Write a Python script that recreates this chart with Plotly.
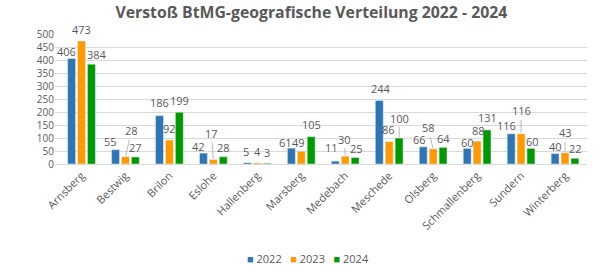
import plotly.graph_objects as go

categories = ["Arnsberg", "Bestwig", "Brilon", "Eslohe", "Hallenberg", "Marsberg",
              "Medebach", "Meschede", "Olsberg", "Schmallenberg", "Sundern", "Winterberg"]
v2022 = [406, 55, 186, 42, 5, 61, 11, 244, 66, 60, 116, 40]
v2023 = [473, 28, 92, 17, 4, 49, 30, 86, 58, 88, 116, 43]
v2024 = [384, 27, 199, 28, 3, 105, 25, 100, 64, 131, 60, 22]
y_ticks = [0, 50, 100, 150, 200, 250, 300, 350, 400, 450, 500]
years = ["2022", "2023", "2024"]
colors = ["#2E75B6", "#FF9900", "#009900"]

# label placement style (px): (dx, dy above bar top, leader line)
label_style = [
    [(-5, 7, 0), (-5, 8, 0), (0, 13, 0), (-5, 7, 0), (-1, 11, 0), (-6, 6, 0),
     (-4, 14, 0), (2, 12, 0), (-4, 7, 0), (0, 6, 0), (-5, 8, 0), (0, 7, 0)],
    [(0, 12, 0), (6, 26, 1), (0, 12, 0), (-2, 26, 1), (0, 11, 0), (-3, 9, 0),
     (-1, 17, 1), (-1, 12, 0), (-5, 21, 1), (1, 11, 0), (0, 23, 1), (0, 20, 1)],
    [(5, 10, 0), (0, 9, 0), (0, 12, 0), (0, 9, 0), (0, 11, 0), (0, 12, 0),
     (1, 9, 0), (0, 20, 1), (0, 9, 0), (0, 12, 0), (1, 7, 0), (0, 10, 0)],
]
bar_offsets = [-10, 0, 10]

gray = "#595959"
fnt = "Open Sans"

fig = go.Figure()
series = [v2022, v2023, v2024]
for name, vals, col in zip(years, series, colors):
    fig.add_trace(go.Bar(x=categories, y=vals, name=name, marker_color=col,
                         showlegend=False))

annotations = []
for s, vals in enumerate(series):
    for i, (cat, v) in enumerate(zip(categories, vals)):
        dx, dy, lead = label_style[s][i]
        if lead:
            annotations.append(dict(
                x=cat, y=v, xref="x", yref="y", text=str(v), showarrow=True,
                arrowhead=0, arrowwidth=0.8, arrowcolor="#A6A6A6", standoff=1,
                ax=dx, ay=-dy, xshift=bar_offsets[s],
                font=dict(size=11, color=gray, family=fnt)))
        else:
            annotations.append(dict(
                x=cat, y=v, xref="x", yref="y", text=str(v), showarrow=False,
                xanchor="center", yanchor="middle",
                xshift=bar_offsets[s] + dx, yshift=dy,
                font=dict(size=11, color=gray, family=fnt)))

legend_text = "&nbsp;&nbsp;&nbsp;".join(
    f"<span style='color:{c}'>■</span> {y}" for y, c in zip(years, colors))
annotations.append(dict(x=0.475, y=-0.73, xref="paper", yref="paper", text=legend_text,
                        showarrow=False, xanchor="center", yanchor="middle",
                        font=dict(size=11, color=gray, family=fnt)))

fig.update_layout(
    width=613, height=276,
    margin=dict(l=55, r=26, t=34, b=112),
    paper_bgcolor="white", plot_bgcolor="white",
    barmode="group", bargap=0.324, bargroupgap=0.2,
    title=dict(text="<b>Verstoß BtMG-geografische Verteilung 2022 - 2024</b>",
               x=0.508, xanchor="center", y=0.955, yanchor="middle",
               font=dict(size=15.8, color=gray, family=fnt)),
    font=dict(family=fnt, color=gray),
    annotations=annotations,
)
fig.update_yaxes(range=[0, 500], tickvals=y_ticks, showgrid=True, gridcolor="#D9D9D9",
                 zeroline=False, tickfont=dict(size=10, color=gray, family=fnt), ticks="",
                 showline=False)
fig.update_xaxes(tickangle=-45, tickfont=dict(size=11, color=gray, family=fnt),
                 showline=True, linecolor="#D9D9D9", ticks="")

fig.write_html("out.html")
